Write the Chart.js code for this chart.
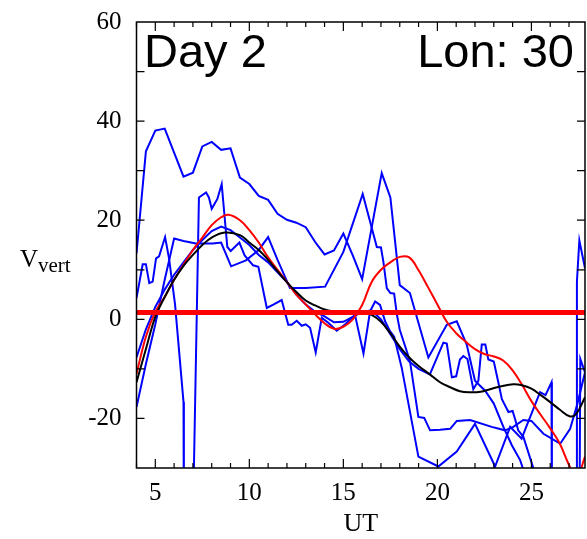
<!DOCTYPE html>
<html lang="en">
	<head>
		<meta charset="UTF-8" />
		<title>Day 2 Lon 30 - Vvert</title>
		<script src="https://cdn.jsdelivr.net/npm/chart.js"></script>
		<style>
			body {
				margin: 0;
				background: #fff;
			}
			#wrap {
				width: 587px;
				height: 539px;
			}
		</style>
	</head>
	<body>
		<div id="wrap"><canvas id="myChart" width="587" height="539"></canvas></div>

		<script>
			// axis setup
			const xTicks = [5, 10, 15, 20, 25];
			const yTicks = [-20, 0, 20, 40, 60];

			// blue traces (UT, Vvert)
			const blueA_x = [4, 4.5, 5, 5.5, 6.5, 7, 7.5, 8, 8.5, 9, 9.5, 10, 10.5, 11, 11.5, 12, 12.5, 13, 13.5, 14, 14.5, 15, 15.5, 16, 17.04, 17.5, 18, 18.54, 19.52, 20.5, 21.03, 21.56, 22, 22.54, 23, 23.51, 23.96, 24.4, 24.8];
			const blueA_y = [13.3, 33.9, 38.1, 38.5, 28.8, 29.6, 34.9, 35.8, 34.2, 34.5, 28.6, 27.3, 24.9, 24.1, 21.3, 20.1, 19.5, 18.6, 15.6, 13.1, 13.9, 17.3, 12.9, 8.1, 29.5, 24.6, 6.9, 5.3, -7.7, -1.1, -0.4, -5.1, -12.4, -14.4, -17, -21.7, -25.4, -28.4, -33];

			const blueB_x = [4, 4.33, 4.5, 4.68, 4.86, 5.04, 5.2, 5.52, 5.73, 6.05, 6.5, 6.52, 6.98, 7.32, 7.7, 7.85, 8.0, 8.3, 8.53, 8.83, 9.01, 9.47, 9.75, 10.2, 10.48, 10.93, 11.3, 11.72, 12.07, 12.25, 12.52, 12.79, 13.0, 13.23, 13.53, 13.85, 14.2, 14.65, 15.1, 15.62, 16.07, 16.42, 16.69, 16.95, 17.22, 17.48, 17.7, 18.1, 18.99, 20.05, 21.03, 22.0, 23.07, 23.87, 24.48, 24.65, 25.46, 25.75, 26.07, 26.09, 27.38, 27.42, 27.55, 27.85];
			const blueB_y = [4.3, 11.1, 11.1, 7.3, 7.6, 12.3, 12.7, 16.6, 12.3, 3, -16.7, -45, -45, 24.6, 25.6, 24.6, 22.3, 24.3, 27.3, 14.6, 13.8, 15.5, 12.9, 10.9, 10.6, 2.3, 3.0, 3.9, -1.1, -1.1, -0.3, -1.3, -1.0, -1.7, -6.7, 0.3, -0.7, -2.3, -1.0, 0.9, -6.9, 1.6, 3.6, 2.9, -0.4, -2.4, -3.5, -9.7, -27.7, -29.7, -26.7, -21.1, -29.7, -21.7, -24.1, -22.4, -14.7, -15.3, -12.7, -60, -60, 7.6, 15.9, 10.3];

			const blueC_x = [4, 4.5, 5, 5.5, 6, 6.5, 7, 7.5, 8, 8.5, 9, 9.5, 10, 10.5, 11, 11.5, 12, 12.5, 13, 13.5, 14, 14.5, 15, 15.5, 16, 16.5, 17, 17.5, 18, 18.5, 19, 19.6, 20.32, 20.5, 20.77, 21.0, 21.2, 21.38, 21.6, 21.91, 22.18, 22.36, 22.55, 22.71, 23.0, 23.24, 23.43, 23.78, 24.0, 24.13, 24.3, 24.57, 25.1, 25.3, 27.55, 27.6, 27.85];
			const blueC_y = [-7.7, -2, 2.5, 6, 9, 11.5, 14, 16, 17.8, 18.7, 18, 16.5, 15, 13, 11.5, 9.5, 7.5, 5, 3, 1.5, 0.6, -0.6, -0.5, 0.5, 1.5, 1.8, 0, -3, -6, -8.5, -10, -11.1, -4.7, -4.9, -11.7, -11.5, -8.1, -7.4, -8, -14.1, -12.4, -5.1, -5.1, -8.1, -8.5, -12.7, -16.1, -18.7, -18.5, -20.1, -22.4, -23.7, -30, -45, -45, -8, -10.7];

			const blueD_x = [4, 4.5, 5, 5.5, 6.0, 6.5, 7.16, 8.05, 8.5, 9.03, 9.82, 10.5, 11.0, 11.5, 12.16, 13, 14.03, 15.0, 16.03, 16.78, 17.0, 17.13, 17.31, 17.5, 17.7, 17.85, 18.0, 18.54, 18.99, 19.3, 19.61, 20.14, 20.68, 21.03, 21.74, 22.89, 23.6, 24.04, 24.57, 25.0, 25.64, 26.53, 27.06, 27.45, 27.85];
			const blueD_y = [-17.7, -9, -1, 8, 16.3, 15.8, 15.3, 15.3, 15.5, 10.7, 11.9, 14, 16.6, 12, 6.3, 6.3, 6.6, 13.6, 25.3, 14.6, 14.5, 11.6, 6.3, 5.3, 5.2, 0.9, -2.1, -8.4, -19.7, -19.9, -22.4, -22.3, -22.1, -20.5, -20.3, -21.7, -22.4, -21.7, -20.3, -20.5, -23.1, -25.1, -22.1, -17, -10.7];

			// smooth model curves
			const red_x = [4, 4.5, 5, 5.5, 6, 6.5, 7, 7.5, 8, 8.5, 8.9, 9.5, 10, 10.5, 11, 11.5, 12, 12.5, 13, 13.5, 14, 14.5, 15, 15.5, 16, 16.5, 17, 17.5, 18, 18.5, 19, 19.5, 20, 20.5, 21, 21.5, 22, 22.5, 23, 23.5, 24, 24.5, 25, 25.5, 26, 26.5, 27, 27.4, 27.85];
			const red_y = [-11, -3.5, 1.5, 4.5, 8, 11, 14, 16.5, 19, 20.6, 21.1, 20, 18, 15.5, 12.5, 10, 7.5, 5, 3, 1, -0.8, -1.9, -1.5, 0, 2.9, 7.5, 10, 11.5, 12.6, 12.5, 9.9, 6.5, 3, -0.5, -2.8, -4.5, -6, -7, -7.5, -8.3, -10.3, -13.2, -16.5, -19.3, -22, -25, -29.4, -32, -27.7];

			const black_x = [4, 4.5, 5, 5.5, 6, 6.5, 7, 7.5, 8, 8.7, 9.5, 10, 10.5, 11, 11.5, 12, 12.5, 13, 13.5, 14, 14.5, 15, 15.5, 16, 16.5, 17, 17.5, 18, 18.5, 19, 19.6, 20.14, 20.68, 21.2, 21.74, 22.3, 22.8, 23.4, 24.04, 24.5, 25, 25.5, 26, 26.5, 27.06, 27.4, 27.85];
			const black_y = [-12.7, -6, 0.5, 4.5, 8, 10.8, 13, 15, 16.5, 17.5, 17, 15.5, 14, 12, 9.7, 7.5, 5.5, 3.8, 2.8, 2, 1.6, 1.4, 1.5, 1.4, 0.9, -0.5, -2.8, -5.5, -7.7, -9.4, -11.1, -12.7, -13.7, -14.5, -14.7, -14.6, -14.1, -13.5, -13.1, -13.3, -14, -15.3, -16.7, -18.2, -19.6, -19, -15.7];

			// reference level
			const level_x = [4, 27.85];
			const level_y = [1.4, 1.4];

			const pts = (xs, ys) => xs.map((x, i) => ({ x: x, y: ys[i] }));

			const blueLine = (xs, ys) => ({
				data: pts(xs, ys),
				borderColor: "#0000ff",
				borderWidth: 2,
				pointRadius: 0,
				tension: 0,
				clip: 0,
				order: 3,
			});

			const frame = {
				id: "frame",
				afterDatasetsDraw(chart) {
					const c = chart.ctx;
					const a = chart.chartArea;
					const xs = chart.scales.x;
					const ys = chart.scales.y;
					c.save();
					c.strokeStyle = "#000";
					c.lineWidth = 1.5;
					c.strokeRect(a.left, a.top, a.right - a.left, a.bottom - a.top);
					c.lineWidth = 1.2;
					c.beginPath();
					// x ticks, top and bottom
					for (let v = 4; v <= 27; v++) {
						const px = xs.getPixelForValue(v);
						const len = v % 5 === 0 ? 9 : 5;
						c.moveTo(px, a.bottom);
						c.lineTo(px, a.bottom - len);
						c.moveTo(px, a.top);
						c.lineTo(px, a.top + len);
					}
					// y ticks, left and right
					for (let v = -20; v <= 50; v += 10) {
						const py = ys.getPixelForValue(v);
						c.moveTo(a.left, py);
						c.lineTo(a.left + 8, py);
						c.moveTo(a.right, py);
						c.lineTo(a.right - 8, py);
					}
					c.stroke();

					// panel labels
					c.fillStyle = "#000";
					c.font = '47px "Liberation Sans", Arial, sans-serif';
					c.textBaseline = "alphabetic";
					c.textAlign = "left";
					c.fillText("Day 2", 144, 67);
					c.textAlign = "right";
					c.fillText("Lon: 30", 574, 67);

					// axis titles
					c.font = '26px "Liberation Serif", "Times New Roman", serif';
					c.textAlign = "center";
					c.fillText("UT", (a.left + a.right) / 2, 531);
					c.textAlign = "left";
					c.font = '25px "Liberation Serif", "Times New Roman", serif';
					c.fillText("V", 20, 267);
					c.font = '21px "Liberation Serif", "Times New Roman", serif';
					c.fillText("vert", 38, 272);
					c.restore();
				},
			};

			const serif = { family: '"Liberation Serif", "Times New Roman", serif', size: 25 };

			new Chart(document.getElementById("myChart"), {
				type: "line",
				data: {
					datasets: [
						{
							data: pts(level_x, level_y),
							borderColor: "#ff0000",
							borderWidth: 5,
							pointRadius: 0,
							clip: 0,
							order: 0,
						},
						{
							data: pts(black_x, black_y),
							borderColor: "#000000",
							borderWidth: 2,
							pointRadius: 0,
							tension: 0.4,
							clip: 0,
							order: 1,
						},
						{
							data: pts(red_x, red_y),
							borderColor: "#ff0000",
							borderWidth: 2,
							pointRadius: 0,
							tension: 0.4,
							clip: 0,
							order: 2,
						},
						blueLine(blueA_x, blueA_y),
						blueLine(blueB_x, blueB_y),
						blueLine(blueC_x, blueC_y),
						blueLine(blueD_x, blueD_y),
					],
				},
				options: {
					responsive: false,
					animation: false,
					devicePixelRatio: 1,
					layout: { padding: { left: 0, top: 9, right: 2, bottom: 0 } },
					plugins: {
						legend: { display: false },
						tooltip: { enabled: false },
					},
					scales: {
						x: {
							type: "linear",
							min: 4,
							max: 27.85,
							afterBuildTicks: (s) => {
								s.ticks = xTicks.map((v) => ({ value: v }));
							},
							afterFit: (s) => {
								s.height = 71;
							},
							grid: { display: false },
							border: { display: false },
							ticks: { color: "#000", font: serif, padding: 2, maxRotation: 0, autoSkip: false },
						},
						y: {
							min: -30,
							max: 60,
							afterBuildTicks: (s) => {
								s.ticks = yTicks.map((v) => ({ value: v }));
							},
							afterFit: (s) => {
								s.width = 136.5;
							},
							grid: { display: false },
							border: { display: false },
							ticks: { color: "#000", font: serif, padding: 7, autoSkip: false },
						},
					},
				},
				plugins: [frame],
			});
		</script>
	</body>
</html>
